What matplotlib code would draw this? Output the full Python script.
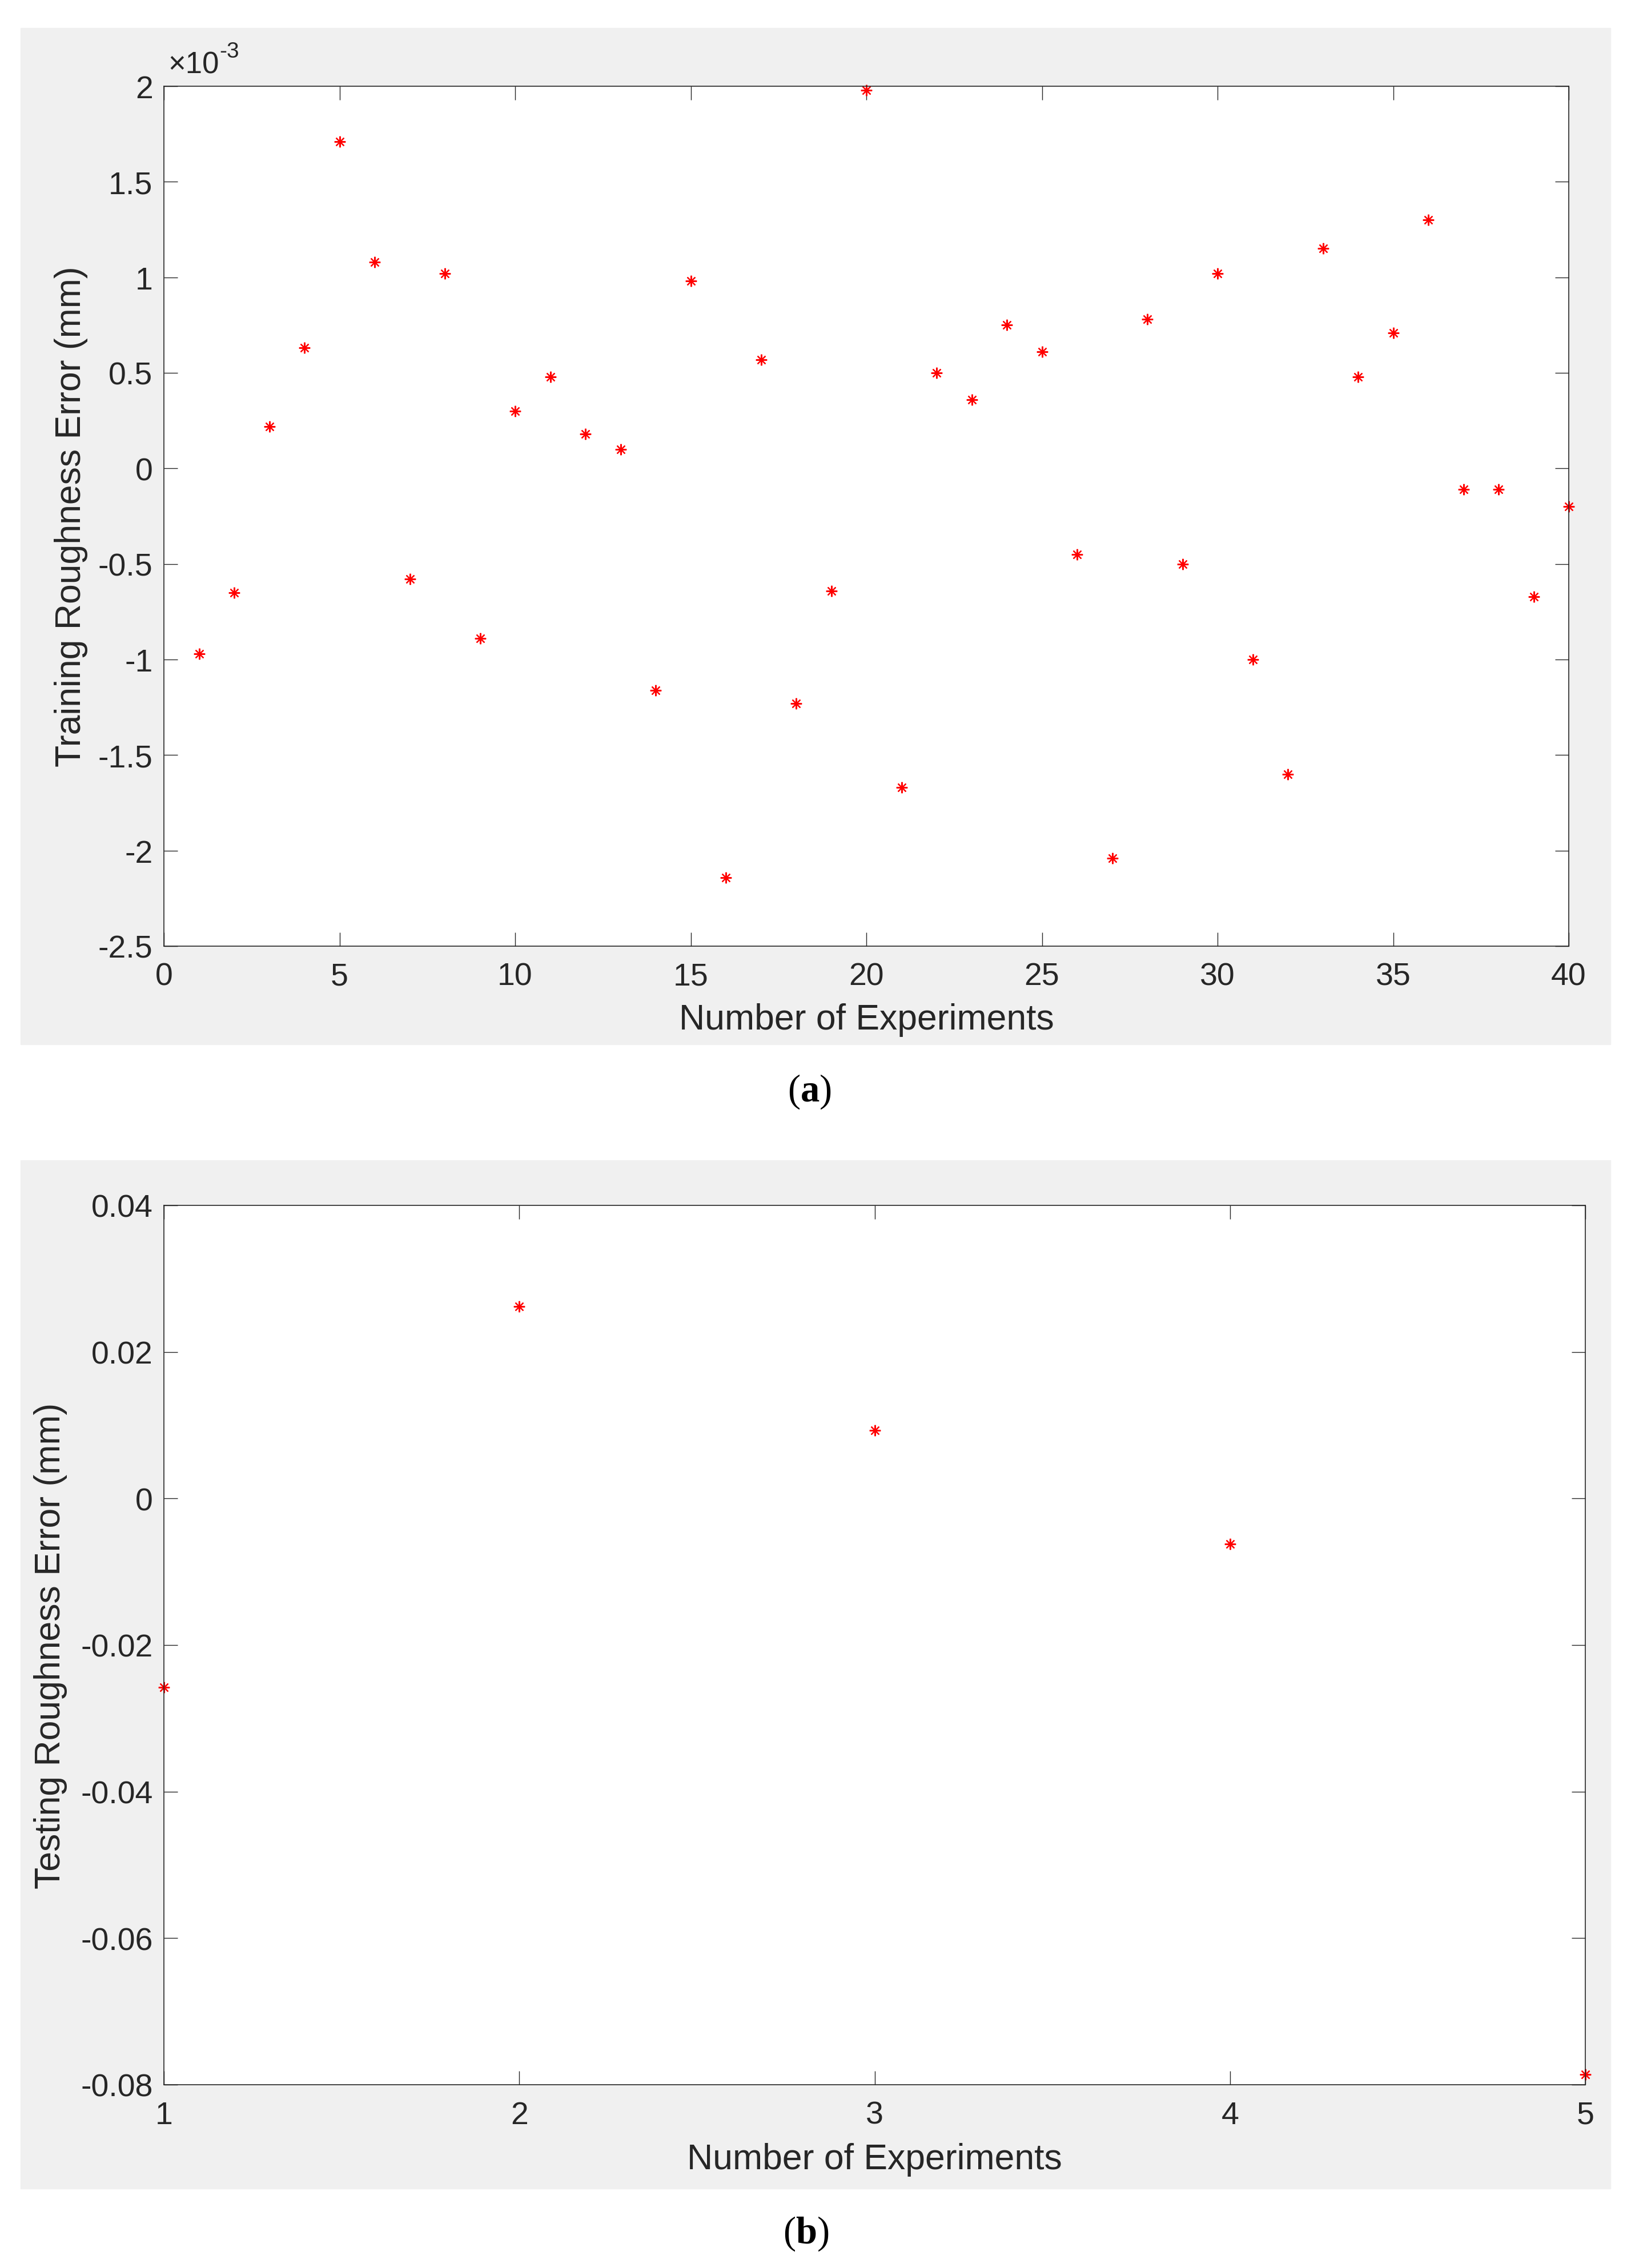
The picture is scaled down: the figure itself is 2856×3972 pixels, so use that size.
import numpy as np
import matplotlib.pyplot as plt

plt.rcParams['font.family'] = ['Liberation Sans', 'DejaVu Sans']
plt.rcParams['axes.unicode_minus'] = False
plt.rcParams['mathtext.fontset'] = 'custom'
plt.rcParams['mathtext.bf'] = 'Liberation Serif:bold'
plt.rcParams['mathtext.rm'] = 'Liberation Serif'

# training errors (units of 1e-3 mm), experiments 1..40
train_x = np.arange(1, 41)
train_err = [-0.97, -0.65, 0.22, 0.63, 1.71, 1.08, -0.58, 1.02, -0.89, 0.30,
             0.48, 0.18, 0.10, -1.16, 0.98, -2.14, 0.57, -1.23, -0.64, 1.98,
             -1.67, 0.50, 0.36, 0.75, 0.61, -0.45, -2.04, 0.78, -0.50, 1.02,
             -1.00, -1.60, 1.15, 0.48, 0.71, 1.30, -0.11, -0.11, -0.67, -0.20]

# testing errors (mm), experiments 1..5
test_x = [1, 2, 3, 4, 5]
test_err = [-0.0258, 0.0262, 0.0093, -0.0062, -0.0786]

train_yticks = [-2.5, -2, -1.5, -1, -0.5, 0, 0.5, 1, 1.5, 2]
train_xticks = [0, 5, 10, 15, 20, 25, 30, 35, 40]
test_yticks = [-0.08, -0.06, -0.04, -0.02, 0, 0.02, 0.04]

W, H = 2856, 3973
txt = '#262626'
bg = '#f0f0f0'
fig = plt.figure(figsize=(W / 100, H / 100), dpi=100)


def frac(x0, y0, x1, y1):
    return [x0 / W, 1 - y1 / H, (x1 - x0) / W, (y1 - y0) / H]


# gray figure backgrounds
for box in [frac(36, 50, 2820, 1830), frac(36, 2033, 2820, 3834)]:
    fig.patches.append(plt.Rectangle((box[0], box[1]), box[2], box[3],
                                     transform=fig.transFigure, color=bg, zorder=-10))


def style(ax):
    ax.set_facecolor('white')
    for s in ax.spines.values():
        s.set_color(txt)
        s.set_linewidth(1.2)
    ax.tick_params(direction='in', top=True, right=True, length=17, width=1.0,
                   color=txt, labelcolor=txt, labelsize=40)
    ax.tick_params(axis='x', pad=20)
    ax.tick_params(axis='y', pad=14)


mk = dict(linestyle='none', marker=(8, 2, 0), markersize=14, markeredgewidth=1.6,
          color='#ff0000', clip_on=False)

# (a) training
ax1 = fig.add_axes(frac(287, 152, 2747, 1658))
ax1.plot(train_x, train_err, **mk)
ax1.set_xlim(0, 40)
ax1.set_ylim(-2.5, 2)
ax1.set_xticks(train_xticks)
ax1.set_yticks(train_yticks)
ax1.set_yticklabels(['%g' % v for v in train_yticks])
style(ax1)
t10 = ax1.text(0.003, 1.008, '\u00d710', transform=ax1.transAxes, fontsize=38,
               color=txt, ha='left', va='bottom')
ax1.annotate('-3', xy=(1.0, 0.62), xycoords=t10, fontsize=28, color=txt,
             ha='left', va='bottom')
fig.text(1517 / W, 1 - 1786 / H, 'Number of Experiments', fontsize=45, color=txt,
         ha='center', va='center')
fig.text(125 / W, 1 - 905 / H, 'Training Roughness Error (mm)', fontsize=45,
         color=txt, ha='center', va='center', rotation=90)
fig.text(1417 / W, 1 - 1912 / H, r'($\mathbf{a}$)', fontsize=48,
         family='Liberation Serif', ha='center', va='center')

# (b) testing
ax2 = fig.add_axes(frac(287, 2112, 2776, 3652))
ax2.plot(test_x, test_err, **mk)
ax2.set_xlim(1, 5)
ax2.set_ylim(-0.08, 0.04)
ax2.set_xticks(test_x)
ax2.set_yticks(test_yticks)
ax2.set_yticklabels(['%g' % v for v in test_yticks])
style(ax2)
fig.text(1531 / W, 1 - 3783 / H, 'Number of Experiments', fontsize=45, color=txt,
         ha='center', va='center')
fig.text(89 / W, 1 - 2882 / H, 'Testing Roughness Error (mm)', fontsize=45,
         color=txt, ha='center', va='center', rotation=90)
fig.text(1411 / W, 1 - 3912 / H, r'($\mathbf{b}$)', fontsize=48,
         family='Liberation Serif', ha='center', va='center')

fig.savefig('out.png', dpi=100, facecolor='white')
